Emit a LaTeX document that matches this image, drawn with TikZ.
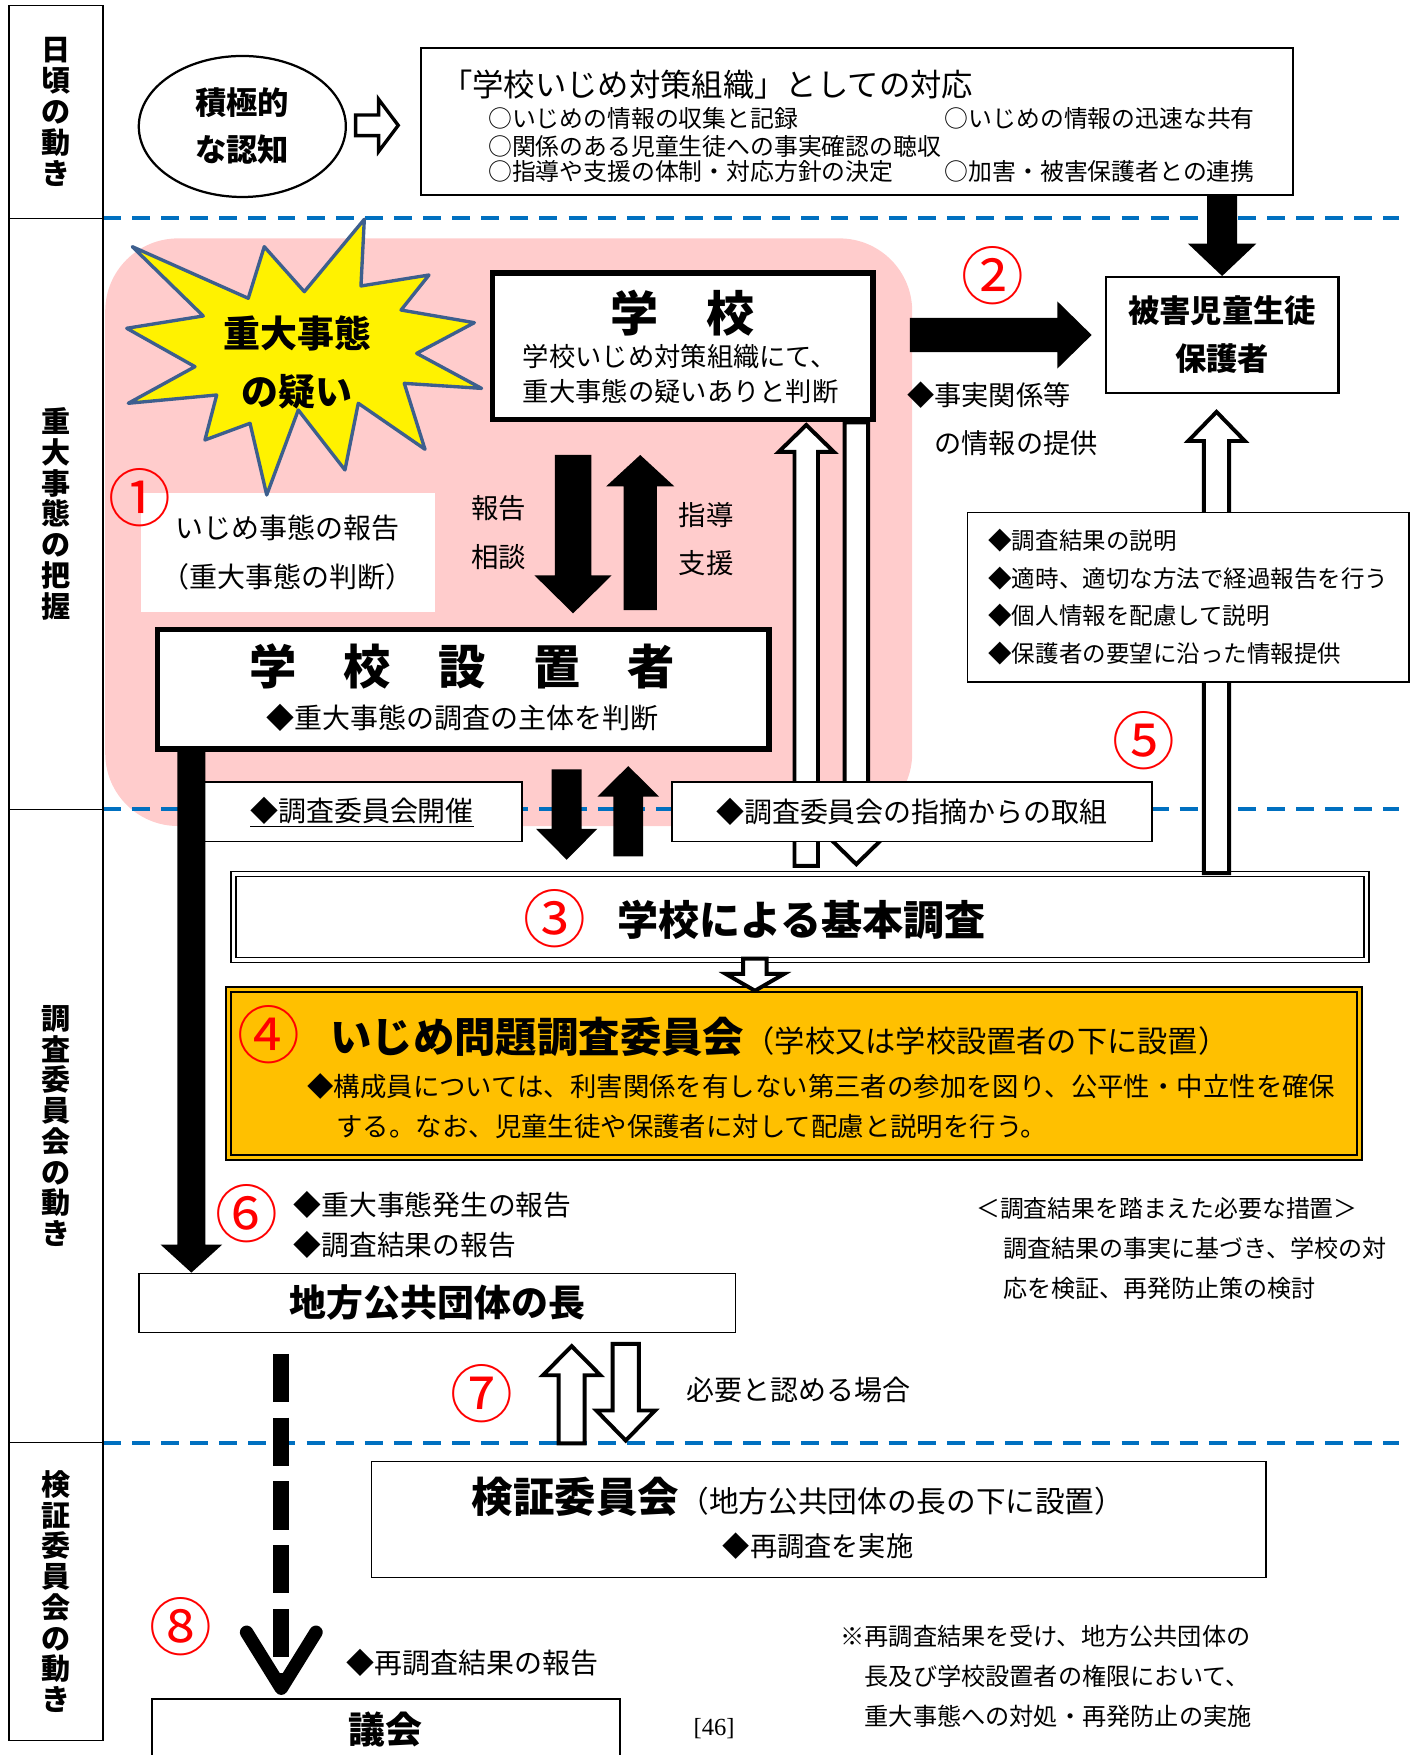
\documentclass[tikz,border=0pt]{standalone}
\usepackage{fontspec}
\setmainfont{Noto Sans CJK JP}
\newfontfamily\pagefont{Liberation Serif}
\usetikzlibrary{calc, shapes.geometric, arrows.meta}

\definecolor{zonepink}{HTML}{FFCCCC}
\definecolor{dashblue}{HTML}{0070C0}
\definecolor{ochre}{HTML}{FFC000}
\definecolor{starline}{HTML}{3D5F8E}

\newcommand\setfs[2]{\fontsize{#1}{#2}\selectfont}

% block arrow: [style]{from}{to}{shaft half}{head half}{head length}
\newcommand\blockarrow[6][]{%
  \path #2 coordinate (ba-s) #3 coordinate (ba-e);
  \coordinate (ba-h) at ($(ba-e)!#6pt!(ba-s)$);
  \path[#1] ($(ba-s)!#4pt!90:(ba-e)$) -- ($(ba-h)!#4pt!90:(ba-e)$)
    -- ($(ba-h)!#5pt!90:(ba-e)$) -- (ba-e) -- ($(ba-h)!#5pt!-90:(ba-e)$)
    -- ($(ba-h)!#4pt!-90:(ba-e)$) -- ($(ba-s)!#4pt!-90:(ba-e)$) -- cycle;}

\begin{document}
\begin{tikzpicture}[x=1pt, y=-1pt, line join=miter,
  box/.style={draw, line width=1.5pt, fill=white, inner sep=0pt},
  heavy box/.style={box, line width=5pt},
  cell/.style={draw, line width=1.2pt, inner sep=0pt, align=center, font=\setfs{26}{27.5}\bfseries},
  txt/.style={inner sep=0pt, font=\setfs{#1}{#1}}, txt/.default=24,
  heading/.style={inner sep=0pt, font=\setfs{#1}{#1}\bfseries},
  num/.style={inner sep=0pt, text=red, font=\setfs{56}{56}},
  solid arrow/.style={fill=black},
  hollow arrow/.style={draw=black, fill=white, line width=3.5pt},
  divider/.style={dashblue, line width=4pt, dash pattern=on 16pt off 10pt},
  report line/.style={line width=14pt, dash pattern=on 43pt off 14pt,
    -{Straight Barb[length=50pt,width=62pt,line width=12pt,round]}}]

  \useasboundingbox (0,0) rectangle (1266,1568);
  \clip (0,0) rectangle (1266,1568);

  \fill[zonepink, rounded corners=65pt] (94,213) rectangle (815,738);
  \foreach \y in {195,723,1289} \draw[divider] (92,\y) -- (1250,\y);

  \node[cell, minimum width=84, minimum height=190] (side1) at (50,100) {日\\頃\\の\\動\\き};
  \node[cell, minimum width=84, minimum height=528] (side2) at (50,459) {重\\大\\事\\態\\の\\把\\握};
  \node[cell, minimum width=84, minimum height=566] (side3) at (50,1006) {調\\査\\委\\員\\会\\の\\動\\き};
  \node[cell, minimum width=84, minimum height=266] (side4) at (50,1422) {検\\証\\委\\員\\会\\の\\動\\き};

  \node[ellipse, draw, line width=2pt, minimum width=185, minimum height=126, inner sep=0pt,
    align=center, font=\setfs{28}{42}\bfseries] (ninchi) at (216.5,113) {積極的\\な認知};

  \node[box, line width=2pt, minimum width=779, minimum height=131.4] (soshiki) at (765.8,108.4) {};
  \node[txt=28, anchor=west] (soshiki-t) at (394,76) {「学校いじめ対策組織」としての対応};
  \node[txt=21.3, anchor=west] (soshiki-a) at (436,105.7) {○いじめの情報の収集と記録};
  \node[txt=21.3, anchor=west] (soshiki-b) at (436,131) {○関係のある児童生徒への事実確認の聴収};
  \node[txt=21.3, anchor=west] (soshiki-c) at (436,153.4) {○指導や支援の体制・対応方針の決定};
  \node[txt=21.3, anchor=west] (soshiki-d) at (844,105.7) {○いじめの情報の迅速な共有};
  \node[txt=21.3, anchor=west] (soshiki-e) at (844,153.4) {○加害・被害保護者との連携};

  \blockarrow[hollow arrow, line width=3pt]{($(ninchi.east)+(7.7,-1)$)}{($(soshiki.west |- ninchi.east)+(-19.5,-1)$)}{9.2}{23.3}{17.5}

  \node[box, line width=2pt, minimum width=207.8, minimum height=103.4, align=center,
    font=\setfs{28}{43}\bfseries] (higai) at (1091.9,299.3) {被害児童生徒\\保護者};
  \blockarrow[solid arrow]{(soshiki.south -| higai.north)}{(higai.north)}{13.4}{30.6}{29}

  \node[fill=white, inner sep=0pt, minimum width=262.6, minimum height=105.8, align=center,
    font=\setfs{25}{43.2}] (hokoku) at (257.1,493.6) {いじめ事態の報告\\（重大事態の判断）};
  \node[num] (n1) at (125,445) {①};

  \draw[starline, line width=3pt, fill=yellow, line join=round]
    (325.5,195.9) -- (322.5,255.5) -- (383.3,245.7) -- (358.3,277) -- (423.8,288.3)
    -- (372.3,315.7) -- (430.3,347) -- (361.2,342.5) -- (379.7,401.4) -- (320.1,360.3)
    -- (308.2,419.9) -- (266.5,366.3) -- (238.3,442.2) -- (223.4,378.2) -- (183.1,393.1)
    -- (193.6,352.9) -- (114.6,360.3) -- (174.2,327.6) -- (113.2,293.3) -- (181.6,282.3)
    -- (118.2,220.4) -- (221.8,266.5) -- (236.1,220.4) -- (271.9,260.6) -- cycle;
  \node[inner sep=0pt, align=center, font=\setfs{33}{52}\bfseries] (giwaku) at (265.5,323.5) {重大事態\\の疑い};

  \node[heavy box, minimum width=339.9, minimum height=131.1] (gakko) at (609.85,309.25) {};
  \node[heading=43] (gakko-t) at (609.5,280) {学　校};
  \node[txt=23.5, anchor=west] (gakko-a) at (467,318.7) {学校いじめ対策組織にて、};
  \node[txt=23.5, anchor=west] (gakko-b) at (467,350) {重大事態の疑いありと判断};

  \blockarrow[solid arrow]{($(gakko.east |- higai.west)+(30.7,0)$)}{($(higai.west)+(-11.7,0)$)}{15.2}{30}{30.6}
  \node[num] (n2) at (887,246) {②};
  \node[inner sep=0pt, anchor=west, align=left, font=\setfs{24.3}{43}] (teikyo) at (810.5,374.5)
    {◆事実関係等\\\hphantom{◆}の情報の提供};

  \node[draw, line width=1.3pt, double, double distance=3.2pt, fill=white, inner sep=0pt,
    minimum width=1012, minimum height=77] (kihon) at (714.8,819.3) {};

  \blockarrow[hollow arrow]{($(kihon.north -| higai.south)+(-5,0)$)}{($(higai.south)+(-5,16)$)}{11.3}{25.3}{26}
  \node[box, minimum width=394.6, minimum height=151.5, align=left, font=\setfs{21}{33.8}] (setsumei) at (1061.65,533.5)
    {◆調査結果の説明\\◆適時、適切な方法で経過報告を行う\\◆個人情報を配慮して説明\\◆保護者の要望に沿った情報提供};
  \node[num] (n5) at (1022,662) {⑤};

  \node[heavy box, minimum width=546, minimum height=106.6] (secchi) at (413.8,615.8) {};
  \node[heading=42.3] (secchi-t) at (413,595.6) {学　校　設　置　者};
  \node[txt=25] (secchi-a) at (413,641.8) {◆重大事態の調査の主体を判断};

  \blockarrow[solid arrow]{($(gakko.south)+(-97.85,29.2)$)}{($(secchi.north)+(98.2,-12)$)}{16.3}{34.5}{34}
  \blockarrow[solid arrow]{($(secchi.north)+(158.2,-15)$)}{($(gakko.south)+(-37.85,29.2)$)}{14.8}{30.4}{28}
  \node[inner sep=0pt, align=center, font=\setfs{24.5}{43.3}] (hokoku-l) at (445.6,475.7) {報告\\相談};
  \node[inner sep=0pt, align=center, font=\setfs{24.5}{43}] (shido-l) at (630.8,481.5) {指導\\支援};

  \blockarrow[hollow arrow]{($(kihon.north -| gakko.south)+(110.5,-6.6)$)}{($(gakko.south)+(110.5,2.4)$)}{10.5}{24.6}{24}
  \blockarrow[hollow arrow]{($(gakko.south)+(155.2,0)$)}{($(kihon.north -| gakko.south)+(155.2,-8)$)}{10.5}{24.6}{24}

  \node[box, minimum width=286.2, minimum height=53.3, font=\setfs{25}{25}] (kaisai) at (323.45,725.2) {\underline{◆調査委員会開催}};
  \node[box, minimum width=429, minimum height=53.3, font=\setfs{25}{25}] (torikumi) at (814.75,725.2) {◆調査委員会の指摘からの取組};

  \blockarrow[solid arrow]{($(secchi.south)+(92.5,15.7)$)}{($(kihon.north -| secchi.south)+(92.5,-12)$)}{13.4}{27.4}{27.7}
  \blockarrow[solid arrow]{($(kihon.north -| secchi.south)+(147.5,-15)$)}{($(secchi.south)+(147.5,12.8)$)}{13.4}{27.5}{27.4}

  \node[box, minimum width=533, minimum height=52.7, font=\setfs{33}{33}\bfseries] (chiho) at (390.75,1164.1) {地方公共団体の長};
  \blockarrow[solid arrow]{($(secchi.south west)+(32.7,-3)$)}{($(chiho.north west)+(47.5,0)$)}{12.6}{27.5}{25}

  \node[num] (n3) at (495.8,820.5) {③};
  \node[heading=36.7] (kihon-t) at (716,822) {学校による基本調査};

  \node[draw, line width=1.6pt, double=ochre, double distance=3pt, fill=ochre, inner sep=0pt,
    minimum width=1010, minimum height=150] (iinkai) at (709.35,958.95) {};
  \blockarrow[hollow arrow]{($(kihon.south)+(-40.3,-2)$)}{($(iinkai.north)+(-34.85,2)$)}{10.5}{26}{15}
  \node[num] (n4) at (239.8,924.7) {④};
  \node[heading=37, anchor=west] (iinkai-t) at (294.8,926) {いじめ問題調査委員会};
  \node[txt=27, anchor=base west] (iinkai-p) at (iinkai-t.base east) {（学校又は学校設置者の下に設置）};
  \node[txt=23.6, anchor=west] (iinkai-a) at (274.5,970.8) {◆構成員については、利害関係を有しない第三者の参加を図り、公平性・中立性を確保};
  \node[txt=23.6, anchor=west] (iinkai-b) at (300.5,1006.6) {する。なお、児童生徒や保護者に対して配慮と説明を行う。};

  \node[num] (n6) at (220.4,1084) {⑥};
  \node[inner sep=0pt, anchor=west, align=left, font=\setfs{24.8}{35.7}] (hassei) at (262.4,1094.5)
    {◆重大事態発生の報告\\◆調査結果の報告};
  \node[txt=21.3, anchor=west] (sochi) at (872,1079.5) {＜調査結果を踏まえた必要な措置＞};
  \node[inner sep=0pt, anchor=west, align=left, font=\setfs{21.5}{35.7}] (sochi-a) at (896,1133.2)
    {調査結果の事実に基づき、学校の対\\応を検証、再発防止策の検討};

  \node[box, minimum width=799.3, minimum height=103.6] (kensho) at (731.6,1357.55) {};
  \node[heading=37, anchor=west] (kensho-t) at (421.4,1337.2) {検証委員会};
  \node[txt=26.5, anchor=base west] (kensho-p) at (kensho-t.base east) {（地方公共団体の長の下に設置）};
  \node[txt=24.3] (kensho-a) at (731,1381.8) {◆再調査を実施};

  \node[box, minimum width=418.3, minimum height=55, font=\setfs{33}{33}\bfseries] (gikai) at (344.7,1545.6) {議会};

  \draw[report line] ($(chiho.south west)+(127.8,18.4)$) -- ($(gikai.north west)+(116.5,-3)$);
  \blockarrow[hollow arrow]{($(kensho.north -| chiho.south)+(120,-15.5)$)}{($(chiho.south)+(120,11.5)$)}{11.6}{25.7}{26}
  \blockarrow[hollow arrow]{($(chiho.south)+(168.3,9.5)$)}{($(kensho.north -| chiho.south)+(168.3,-18)$)}{11.7}{26.2}{26.8}
  \node[num] (n7) at (430.3,1244.8) {⑦};
  \node[txt=25, anchor=west] (hitsuyo) at (613,1242) {必要と認める場合};
  \node[num] (n8) at (161.5,1453.3) {⑧};
  \node[txt=25, anchor=west] (saichosa) at (309.3,1486) {◆再調査結果の報告};
  \node[inner sep=0pt, font=\pagefont\setfs{22}{22}] (page) at (638,1544) {[46]};
  \node[inner sep=0pt, anchor=west, align=left, font=\setfs{21.6}{35.7}] (note) at (750.8,1498)
    {※再調査結果を受け、地方公共団体の\\　長及び学校設置者の権限において、\\　重大事態への対処・再発防止の実施};
\end{tikzpicture}
\end{document}
